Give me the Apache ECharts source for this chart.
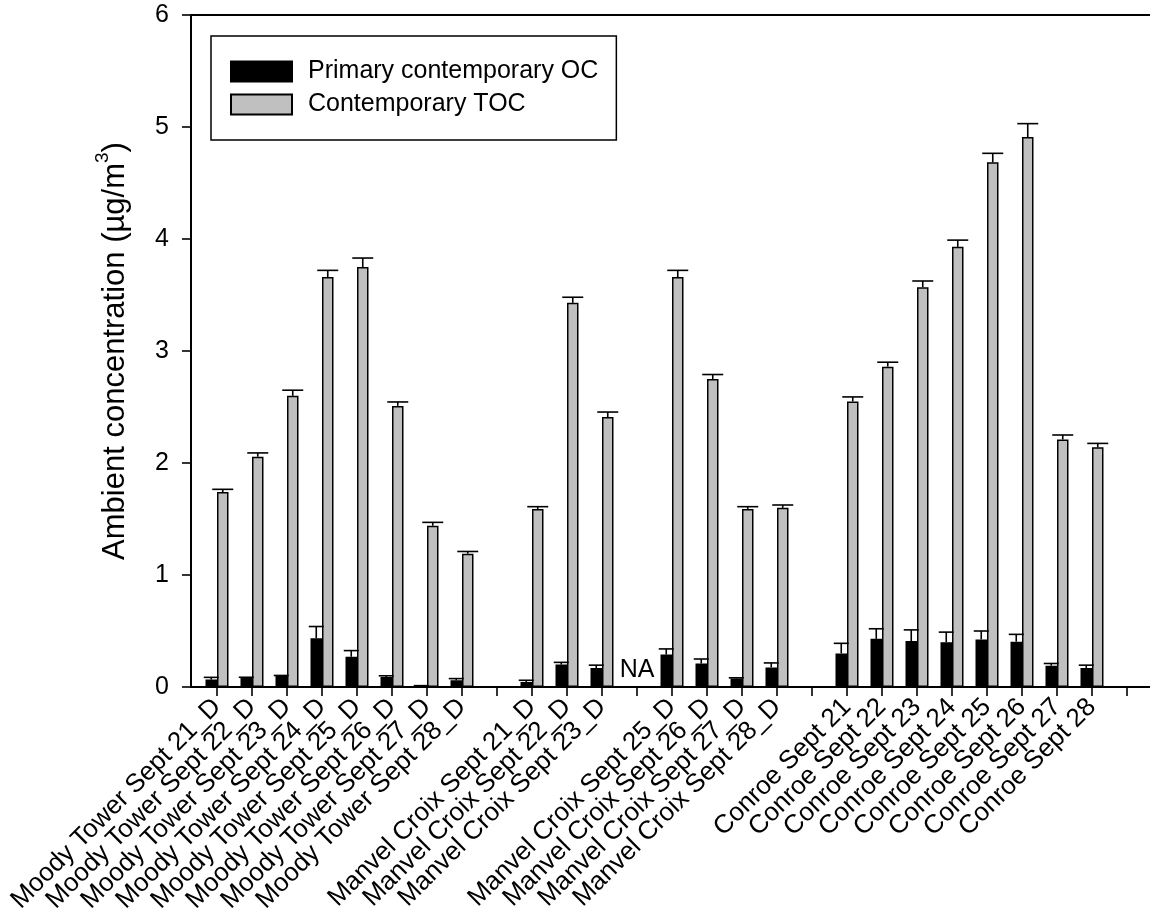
<!DOCTYPE html>
<html>
<head>
<meta charset="utf-8">
<script src="https://cdn.jsdelivr.net/npm/echarts@6/dist/echarts.min.js"></script>
<style>html,body{margin:0;padding:0;background:#fff}#c{width:1150px;height:923px}</style>
</head>
<body>
<div id="c"></div>
<script>
// ---- data ----
const categories = [
  'Moody Tower Sept 21_D','Moody Tower Sept 22_D','Moody Tower Sept 23_D','Moody Tower Sept 24_D',
  'Moody Tower Sept 25_D','Moody Tower Sept 26_D','Moody Tower Sept 27_D','Moody Tower Sept 28_D',
  '\u2002',
  'Manvel Croix Sept 21_D','Manvel Croix Sept 22_D','Manvel Croix Sept 23_D',
  '\u2002\u2002',
  'Manvel Croix Sept 25_D','Manvel Croix Sept 26_D','Manvel Croix Sept 27_D','Manvel Croix Sept 28_D',
  '\u2002\u2002\u2002',
  'Conroe Sept 21','Conroe Sept 22','Conroe Sept 23','Conroe Sept 24',
  'Conroe Sept 25','Conroe Sept 26','Conroe Sept 27','Conroe Sept 28',
  '\u2002\u2002\u2002\u2002'
];
const primaryOC = [0.066,0.08,0.098,0.435,0.27,0.09,0.012,0.06,null,
  0.045,0.20,0.17,null,0.29,0.21,0.077,0.175,null,
  0.30,0.43,0.41,0.40,0.425,0.405,0.19,0.17,null];
const primaryOCErr = [0.02,0.007,0.005,0.105,0.055,0.01,0,0.015,null,
  0.015,0.02,0.025,null,0.05,0.04,0.005,0.04,null,
  0.09,0.09,0.10,0.09,0.075,0.065,0.02,0.025,null];
const contemporaryTOC = [1.74,2.056,2.60,3.66,3.75,2.51,1.44,1.19,null,
  1.59,3.43,2.41,null,3.66,2.75,1.59,1.60,null,
  2.55,2.86,3.57,3.93,4.685,4.91,2.21,2.14,null];
const contemporaryTOCErr = [0.025,0.034,0.05,0.06,0.08,0.035,0.03,0.02,null,
  0.02,0.05,0.045,null,0.06,0.04,0.02,0.025,null,
  0.04,0.04,0.055,0.06,0.08,0.12,0.04,0.035,null];
const naNotes = [{category: '\u2002\u2002', text: 'NA'}];
const yTicks = [0,1,2,3,4,5,6];
const seriesNames = ['Primary contemporary OC','Contemporary TOC'];

// ---- chart ----
const FONT = 'Arial, "Liberation Sans", sans-serif';
const BAR_W = 11.5;
const chart = echarts.init(document.getElementById('c'), null, {renderer: 'canvas'});

function errData(vals, errs) {
  return vals.map((v, i) => v == null ? null : [i, v, errs[i]]).filter(d => d);
}
function errRender(offset, capW) {
  return function (params, api) {
    const i = api.value(0), v = api.value(1), e = api.value(2);
    const p0 = api.coord([i, v]);
    const p1 = api.coord([i, v + e]);
    const cx = p0[0] + offset;
    const st = {stroke: '#000', lineWidth: 1.6};
    return {
      type: 'group',
      children: [
        {type: 'line', shape: {x1: cx, y1: p0[1], x2: cx, y2: p1[1]}, style: st},
        {type: 'line', shape: {x1: cx - capW / 2, y1: p1[1], x2: cx + capW / 2, y2: p1[1]}, style: st}
      ]
    };
  };
}

const option = {
  animation: false,
  backgroundColor: '#fff',
  textStyle: {fontFamily: FONT},
  legend: {
    data: seriesNames,
    orient: 'vertical',
    left: 211, top: 36,
    padding: [23, 18, 23, 19],
    itemWidth: 61, itemHeight: 20, itemGap: 8,
    borderColor: '#000', borderWidth: 1.5,
    icon: 'rect',
    textStyle: {fontFamily: FONT, fontSize: 25, color: '#000', lineHeight: 25, padding: [0, 0, 0, 11]}
  },
  grid: [
    {left: 191, top: 15, right: -20, bottom: 236},
    {left: 199.5, top: 15, width: 945, bottom: 236}
  ],
  xAxis: [
    {gridIndex: 0, type: 'value', min: 0, max: 1, position: 'bottom',
      axisLine: {show: true, lineStyle: {color: '#000', width: 2}},
      axisTick: {show: false}, axisLabel: {show: false}, splitLine: {show: false}},
    {gridIndex: 0, type: 'value', min: 0, max: 1, position: 'top',
      axisLine: {show: true, lineStyle: {color: '#000', width: 2}},
      axisTick: {show: false}, axisLabel: {show: false}, splitLine: {show: false}},
    {gridIndex: 1, type: 'category', data: categories, position: 'bottom',
      axisLine: {show: false},
      axisTick: {show: true, alignWithLabel: true, length: 9, lineStyle: {color: '#000', width: 1.6}},
      axisLabel: {interval: 0, rotate: 45, margin: 16, fontSize: 26, color: '#000', fontFamily: FONT},
      splitLine: {show: false}}
  ],
  yAxis: [
    {gridIndex: 0, type: 'value', min: yTicks[0], max: yTicks[yTicks.length - 1], interval: 1,
      axisLine: {show: true, lineStyle: {color: '#000', width: 2}},
      axisTick: {show: true, length: 9, lineStyle: {color: '#000', width: 1.6}},
      axisLabel: {margin: 22, fontSize: 25, color: '#000', fontFamily: FONT},
      splitLine: {show: false},
      name: '{a|Ambient concentration (µg/m}{s|3}{a|)}',
      nameLocation: 'middle', nameRotate: 90, nameGap: 60,
      nameTextStyle: {
        rich: {
          a: {fontSize: 31, color: '#000', fontFamily: FONT, lineHeight: 38, verticalAlign: 'bottom'},
          s: {fontSize: 19, color: '#000', fontFamily: FONT, lineHeight: 38, verticalAlign: 'top'}
        }
      }},
    {gridIndex: 1, type: 'value', min: yTicks[0], max: yTicks[yTicks.length - 1], show: false}
  ],
  series: [
    {name: seriesNames[0], type: 'bar', xAxisIndex: 2, yAxisIndex: 1,
      data: primaryOC, barWidth: BAR_W, barGap: '0%',
      itemStyle: {color: '#000', borderColor: '#000', borderWidth: 1.5}},
    {name: seriesNames[1], type: 'bar', xAxisIndex: 2, yAxisIndex: 1,
      data: contemporaryTOC, barWidth: BAR_W, barGap: '0%',
      itemStyle: {color: '#c0c0c0', borderColor: '#000', borderWidth: 1.5}},
    {name: 'err0', type: 'custom', xAxisIndex: 2, yAxisIndex: 1, silent: true,
      encode: {x: 0, y: 1}, data: errData(primaryOC, primaryOCErr),
      renderItem: errRender(-BAR_W / 2, 15), z: 3},
    {name: 'err1', type: 'custom', xAxisIndex: 2, yAxisIndex: 1, silent: true,
      encode: {x: 0, y: 1}, data: errData(contemporaryTOC, contemporaryTOCErr),
      renderItem: errRender(BAR_W / 2, 21), z: 3},
    {name: 'notes', type: 'custom', xAxisIndex: 2, yAxisIndex: 1, silent: true,
      encode: {x: 0, y: 1},
      data: naNotes.map(n => [categories.indexOf(n.category), 0, n.text]),
      renderItem: function (params, api) {
        const p = api.coord([api.value(0), 0]);
        return {type: 'text', x: p[0], y: p[1] - 4,
          style: {text: naNotes[params.dataIndex].text, fontSize: 25, fontFamily: FONT, fill: '#000',
            align: 'center', verticalAlign: 'bottom'}};
      }, z: 4}
  ]
};
chart.setOption(option);
</script>
</body>
</html>
